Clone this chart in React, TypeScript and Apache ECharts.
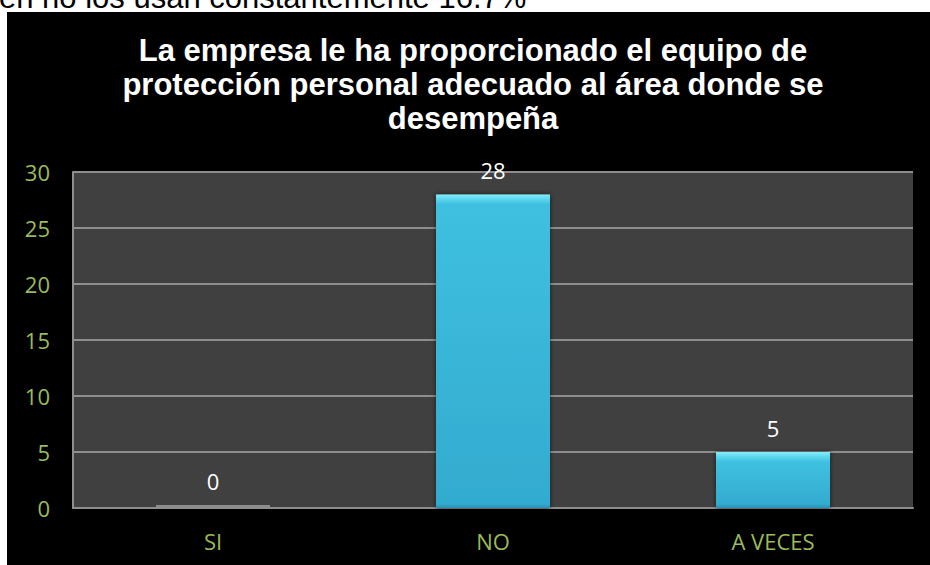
import React, { useEffect, useRef } from "react";
import * as echarts from "echarts";

const categories = ["SI", "NO", "A VECES"];
const values = [0, 28, 5];
const yMin = 0;
const yMax = 30;
const yInterval = 5;
const titleLines = [
  "La empresa le ha proporcionado el equipo de",
  "protección personal adecuado al área donde se",
  "desempeña",
];
const topText = "en no los usan constantemente 16.7%";

const green = "#9bbb59";

function barColor(v: number) {
  if (v === 0) return "#8c8c8c";
  const frac = Math.min(0.5, 10 / Math.max(1, v * 11.2));
  return new echarts.graphic.LinearGradient(0, 0, 0, 1, [
    { offset: 0, color: "#86ecf8" },
    { offset: frac * 0.5, color: "#5ad6ee" },
    { offset: frac, color: "#3fc0e0" },
    { offset: 1 - frac * 0.4, color: "#33abd0" },
    { offset: 1, color: "#2a8fb4" },
  ]);
}

export default function App() {
  const ref = useRef<HTMLDivElement>(null);
  useEffect(() => {
    if (!ref.current) return;
    const chart = echarts.init(ref.current, undefined, { renderer: "svg" });
    chart.setOption({
      animation: false,
      backgroundColor: "#ffffff",
      graphic: [
        {
          type: "text",
          x: -1,
          y: -3,
          z: 1,
          style: {
            text: topText,
            fill: "#000000",
            font: "31px 'Liberation Sans', Arial, sans-serif",
            verticalAlign: "middle",
            align: "left",
          },
        },
        {
          type: "rect",
          z: 2,
          shape: { x: 7, y: 12, width: 923, height: 553 },
          style: { fill: "#000000" },
        },
        {
          type: "text",
          z: 3,
          x: 473,
          y: 33,
          style: {
            text: titleLines.join("\n"),
            fill: "#ffffff",
            font: "bold 31px 'Liberation Sans', Arial, sans-serif",
            lineHeight: 34,
            align: "center",
            verticalAlign: "top",
          },
        },
      ],
      grid: {
        left: 73,
        right: 17,
        top: 172,
        bottom: 57,
        show: true,
        backgroundColor: "#404040",
        borderWidth: 0,
        z: 3,
      },
      xAxis: {
        type: "category",
        data: categories,
        z: 4,
        axisLine: { show: true, lineStyle: { color: "#8e8e8e", width: 2 } },
        axisTick: { show: false },
        axisLabel: {
          color: green,
          fontSize: 22,
          fontFamily: "'Open Sans', sans-serif",
          margin: 22,
        },
      },
      yAxis: {
        type: "value",
        min: yMin,
        max: yMax,
        interval: yInterval,
        z: 4,
        axisLine: { show: true, lineStyle: { color: "#8e8e8e", width: 2 } },
        axisTick: { show: false },
        splitLine: { show: true, lineStyle: { color: "#8e8e8e", width: 2 } },
        axisLabel: {
          color: green,
          fontSize: 22,
          fontFamily: "'Open Sans', sans-serif",
          margin: 23,
        },
      },
      series: [
        {
          type: "bar",
          z: 5,
          barWidth: 114,
          barMinHeight: 3,
          data: values.map((v) => ({
            value: v,
            itemStyle: {
              color: barColor(v),
              shadowBlur: v === 0 ? 0 : 5,
              shadowColor: "rgba(0,0,0,0.6)",
            },
          })),
          label: {
            show: true,
            position: "top",
            distance: 13,
            color: "#ffffff",
            fontSize: 22,
            fontFamily: "'Open Sans', sans-serif",
          },
        },
      ],
    });
    return () => chart.dispose();
  }, []);
  return (
    <div
      ref={ref}
      style={{ position: "fixed", left: 0, top: 0, width: 930, height: 565 }}
    />
  );
}
